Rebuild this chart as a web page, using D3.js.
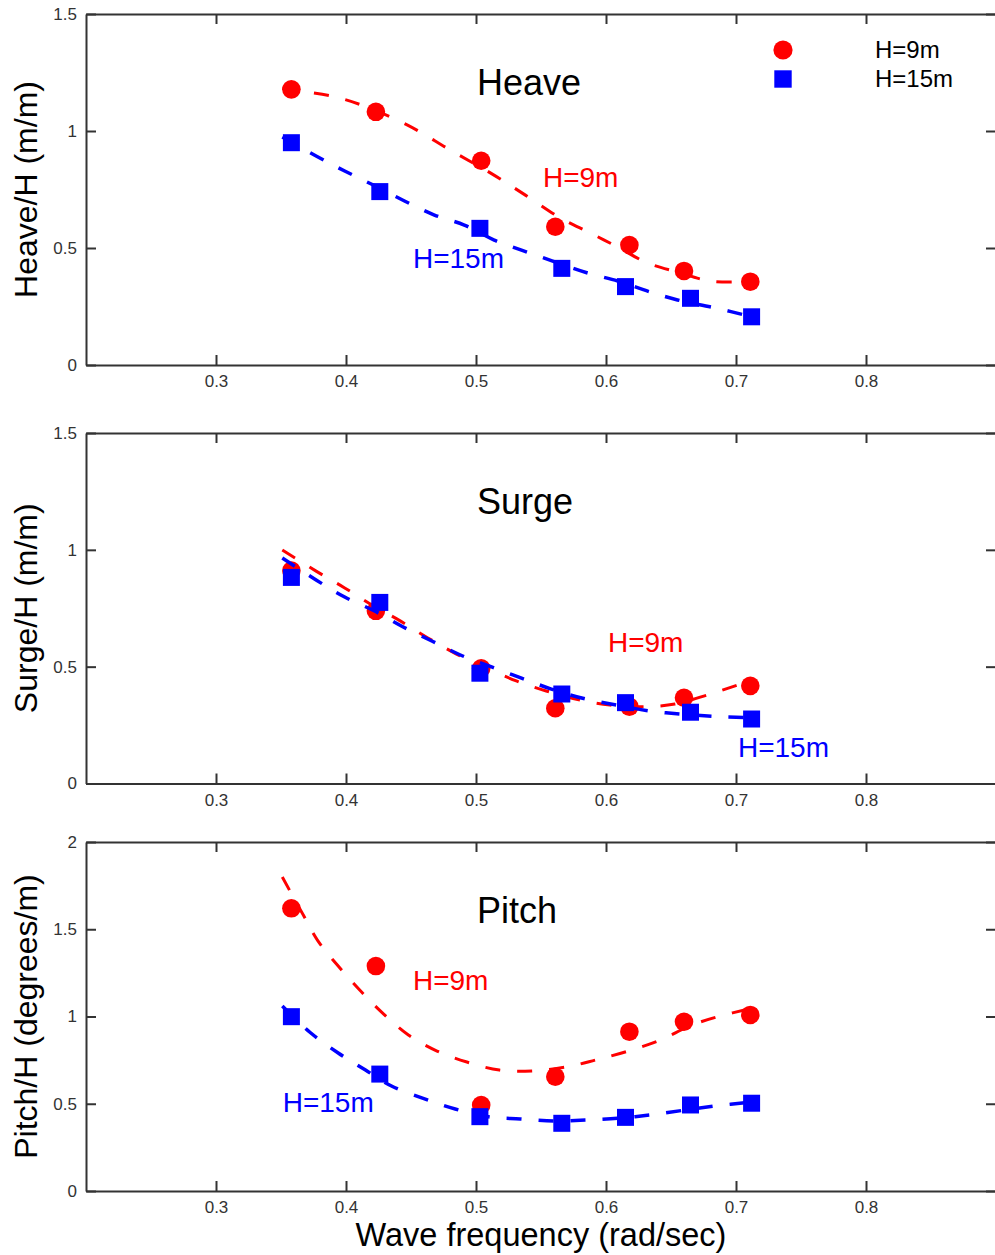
<!DOCTYPE html>
<html>
<head>
<meta charset="utf-8">
<script src="https://cdn.jsdelivr.net/npm/d3@7"></script>
<style>
  html, body { margin: 0; padding: 0; background: #fff; }
  svg { display: block; }
  text { font-family: "Liberation Sans", Arial, sans-serif; }
</style>
</head>
<body>
<svg id="chart" width="995" height="1255"></svg>
<script>
// ---------------- DATA ----------------
const xTicks = [0.3, 0.4, 0.5, 0.6, 0.7, 0.8];
const yTicks12 = [0, 0.5, 1, 1.5];
const yTicks3 = [0, 0.5, 1, 1.5, 2];

const freq9  = [0.358, 0.423, 0.504, 0.561, 0.618, 0.660, 0.711];
const freq15 = [0.358, 0.426, 0.503, 0.566, 0.615, 0.665, 0.712];

const heave9  = [1.178, 1.082, 0.873, 0.591, 0.513, 0.402, 0.356];
const heave15 = [0.950, 0.741, 0.584, 0.413, 0.335, 0.285, 0.206];
const surge9  = [0.911, 0.739, 0.493, 0.322, 0.329, 0.367, 0.418];
const surge15 = [0.882, 0.775, 0.472, 0.383, 0.346, 0.305, 0.276];
const pitch9  = [1.620, 1.289, 0.493, 0.655, 0.913, 0.970, 1.009];
const pitch15 = [0.999, 0.670, 0.426, 0.388, 0.422, 0.493, 0.503];

// fitted (dashed) curves: [frequency, value]
const heaveFit9 = [[0.351,1.182],[0.358,1.175],[0.388,1.150],[0.412,1.111],[0.447,1.026],[0.480,0.919],
  [0.511,0.821],[0.538,0.726],[0.565,0.628],[0.588,0.564],[0.609,0.504],[0.632,0.436],[0.655,0.397],
  [0.680,0.359],[0.705,0.355],[0.711,0.355]];
const heaveFit15 = [[0.351,0.974],[0.377,0.893],[0.399,0.829],[0.421,0.769],[0.445,0.701],[0.468,0.641],
  [0.491,0.598],[0.514,0.534],[0.535,0.491],[0.559,0.444],[0.586,0.393],[0.609,0.359],[0.634,0.312],
  [0.655,0.278],[0.684,0.244],[0.712,0.206]];
const surgeFit9 = [[0.351,0.999],[0.377,0.909],[0.399,0.837],[0.420,0.764],[0.442,0.695],[0.463,0.623],
  [0.485,0.554],[0.508,0.494],[0.531,0.439],[0.554,0.396],[0.580,0.357],[0.603,0.336],[0.630,0.329],
  [0.653,0.340],[0.678,0.379],[0.701,0.421],[0.711,0.439]];
const surgeFit15 = [[0.351,0.965],[0.377,0.871],[0.399,0.798],[0.422,0.738],[0.444,0.670],[0.466,0.610],
  [0.488,0.550],[0.512,0.499],[0.535,0.451],[0.558,0.404],[0.584,0.362],[0.608,0.336],[0.634,0.310],
  [0.658,0.297],[0.684,0.287],[0.707,0.282],[0.712,0.281]];
const pitchFit9 = [[0.351,1.799],[0.368,1.570],[0.378,1.438],[0.394,1.289],[0.412,1.140],[0.429,1.014],
  [0.448,0.894],[0.470,0.802],[0.493,0.739],[0.518,0.693],[0.543,0.688],[0.571,0.713],[0.592,0.751],
  [0.617,0.802],[0.642,0.865],[0.665,0.948],[0.688,1.003],[0.711,1.045]];
const pitchFit15 = [[0.351,1.060],[0.372,0.911],[0.394,0.791],[0.415,0.693],[0.435,0.602],[0.461,0.527],
  [0.484,0.470],[0.511,0.424],[0.534,0.413],[0.561,0.401],[0.584,0.407],[0.611,0.418],[0.634,0.436],
  [0.661,0.464],[0.684,0.487],[0.712,0.510]];

const seriesNames = ["H=9m", "H=15m"];
const panelTitles = ["Heave", "Surge", "Pitch"];
const yLabels = ["Heave/H (m/m)", "Surge/H (m/m)", "Pitch/H (degrees/m)"];
const xLabel = "Wave frequency (rad/sec)";

// annotation anchors [frequency, value] for the in-plot series labels (text baseline start)
const annot9  = [[0.5515, 0.761], [0.6015, 0.564], [0.4515, 1.152]];
const annot15 = [[0.4515, 0.413], [0.7015, 0.115], [0.3513, 0.454]];

// ---------------- LAYOUT ----------------
const RED = "#ff0000", BLUE = "#0000ff", AX = "#333333";
const svg = d3.select("#chart");
const x = d3.scaleLinear().domain([0.2, 0.9]).range([86, 996]);

const panels = [
  { top: 14,  bottom: 365,   ymax: 1.5, ticks: yTicks12, d9: heave9, d15: heave15, f9: heaveFit9, f15: heaveFit15 },
  { top: 433, bottom: 783.5, ymax: 1.5, ticks: yTicks12, d9: surge9, d15: surge15, f9: surgeFit9, f15: surgeFit15 },
  { top: 842, bottom: 1191,  ymax: 2,   ticks: yTicks3,  d9: pitch9, d15: pitch15, f9: pitchFit9, f15: pitchFit15 }
];

const fmt = d => d3.format("~g")(d);

panels.forEach((p, i) => {
  const y = d3.scaleLinear().domain([0, p.ymax]).range([p.bottom, p.top]);
  const g = svg.append("g");

  // axes
  const styleAxis = sel => {
    sel.select(".domain").attr("stroke", AX).attr("stroke-width", 2);
    sel.selectAll(".tick line").attr("stroke", AX).attr("stroke-width", 2);
    sel.selectAll(".tick text").attr("fill", AX).style("font-size", "17px")
      .style("font-family", "'Liberation Sans', Arial, sans-serif");
  };
  g.append("g").attr("transform", `translate(0,${p.bottom})`)
    .call(d3.axisBottom(x).tickValues(xTicks).tickFormat(fmt).tickSizeInner(-10).tickSizeOuter(0).tickPadding(10))
    .call(styleAxis);
  g.append("g").attr("transform", `translate(0,${p.top})`)
    .call(d3.axisTop(x).tickValues(xTicks).tickFormat("").tickSizeInner(-10).tickSizeOuter(0))
    .call(styleAxis);
  g.append("g").attr("transform", `translate(86,0)`)
    .call(d3.axisLeft(y).tickValues(p.ticks).tickFormat(fmt).tickSizeInner(-10).tickSizeOuter(0).tickPadding(9))
    .call(styleAxis);
  g.append("g").attr("transform", `translate(996,0)`)
    .call(d3.axisRight(y).tickValues(p.ticks).tickFormat("").tickSizeInner(-10).tickSizeOuter(0))
    .call(styleAxis);
  g.selectAll(".domain").attr("fill", "none");

  const line = d3.line().x(d => x(d[0])).y(d => y(d[1])).curve(d3.curveCatmullRom);

  // H=9m : circles + dashed fit
  g.append("g").selectAll("circle").data(p.d9).join("circle")
    .attr("cx", (d, k) => x(freq9[k])).attr("cy", d => y(d)).attr("r", 9.3).attr("fill", RED);
  g.append("path").datum(p.f9).attr("d", line).attr("fill", "none")
    .attr("stroke", RED).attr("stroke-width", 3).attr("stroke-dasharray", "15,17");

  // H=15m : squares + dashed fit
  g.append("g").selectAll("rect").data(p.d15).join("rect")
    .attr("x", (d, k) => x(freq15[k]) - 8.5).attr("y", d => y(d) - 8.5)
    .attr("width", 17).attr("height", 17).attr("fill", BLUE);
  g.append("path").datum(p.f15).attr("d", line).attr("fill", "none")
    .attr("stroke", BLUE).attr("stroke-width", 3.5).attr("stroke-dasharray", "15,17");

  // panel title
  g.append("text").attr("x", x(0.5) + 1).attr("y", p.top + 81)
    .style("font-size", "36px").attr("fill", "#000").text(panelTitles[i]);

  // series annotations
  g.append("text").attr("x", x(annot9[i][0])).attr("y", y(annot9[i][1]))
    .style("font-size", "28px").attr("fill", RED).text(seriesNames[0]);
  g.append("text").attr("x", x(annot15[i][0])).attr("y", y(annot15[i][1]))
    .style("font-size", "28px").attr("fill", BLUE).text(seriesNames[1]);

  // y label
  g.append("text")
    .attr("transform", `translate(37,${(p.top + p.bottom) / 2}) rotate(-90)`)
    .attr("text-anchor", "middle").style("font-size", "32px").attr("fill", "#000")
    .text(yLabels[i]);
});

// legend (top panel)
const legend = svg.append("g");
legend.append("circle").attr("cx", 783).attr("cy", 50).attr("r", 9.6).attr("fill", RED);
legend.append("rect").attr("x", 783 - 8.7).attr("y", 79 - 8.7).attr("width", 17.4).attr("height", 17.4).attr("fill", BLUE);
legend.append("text").attr("x", 875).attr("y", 57.5).style("font-size", "24px").attr("fill", "#000").text(seriesNames[0]);
legend.append("text").attr("x", 875).attr("y", 86.5).style("font-size", "24px").attr("fill", "#000").text(seriesNames[1]);

// x label
svg.append("text").attr("x", (86 + 996) / 2).attr("y", 1246)
  .attr("text-anchor", "middle").style("font-size", "32.5px").attr("fill", "#000")
  .text(xLabel);
</script>
</body>
</html>
